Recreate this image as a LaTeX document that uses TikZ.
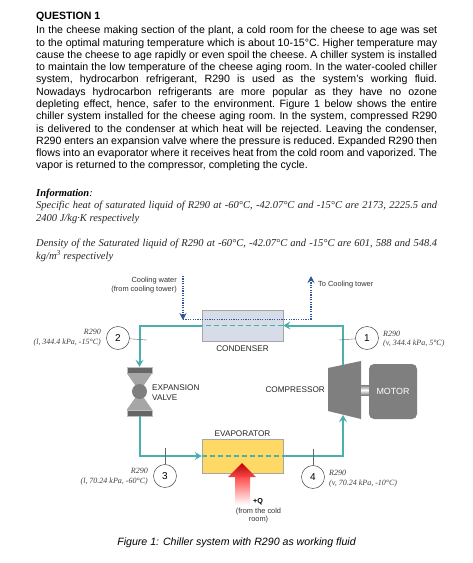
\documentclass[tikz,border=0pt]{standalone}
\usepackage{fontspec}
\setmainfont{Liberation Sans}
\newfontfamily\serifface{Liberation Serif}
\usetikzlibrary{arrows.meta, positioning, calc}
\definecolor{pipeteal}{HTML}{4BAFAE}
\definecolor{waterblue}{HTML}{2F5597}
\definecolor{machinegray}{HTML}{7F7F7F}
\definecolor{condfill}{HTML}{D6DCE8}
\definecolor{evapfill}{HTML}{FFD966}
\definecolor{boxedge}{HTML}{A6A6A6}
\tikzset{
    bodytext/.style={inner sep=0pt, text width=401pt, align=justify, font=\frenchspacing\fontsize{10.6}{12.27}\selectfont},
    infotext/.style={inner sep=0pt, text width=401pt, align=justify, font=\frenchspacing\serifface\itshape\fontsize{10.5}{12.6}\selectfont, text=black!85},
    refline/.style={draw=pipeteal, line width=2pt},
    reftip/.style={refline, -{Stealth[length=7pt, width=8pt, inset=2.5pt]}},
    refdash/.style={draw=pipeteal, line width=1.4pt, dash pattern=on 5pt off 3pt},
    water/.style={draw=waterblue, line width=1.2pt, dash pattern=on 1.2pt off 1.2pt},
    watertip/.style={water, -{Stealth[length=7pt, width=7pt, inset=2.5pt]}},
    hxbox/.style={draw=boxedge, line width=0.6pt, minimum width=81pt},
    hxlabel/.style={inner sep=0pt, font=\fontsize{8.2}{10}\selectfont, text=black!85},
    statecircle/.style={circle, draw=black!80, line width=0.45pt, fill=white, minimum size=23pt, inner sep=0pt, font=\fontsize{10}{11}\selectfont},
    statetick/.style={draw=black!60, line width=0.4pt},
    statetext/.style={inner sep=0pt, font=\serifface\itshape\fontsize{8}{9.6}\selectfont, text=black!75},
    smalltext/.style={inner sep=0pt, font=\fontsize{7.4}{8.8}\selectfont, text=black!80, align=center},
    valvebar/.style={fill=black!60, draw=black!25, line width=0.4pt, minimum width=25pt, minimum height=6pt, inner sep=0pt}
}
\begin{document}
\begin{tikzpicture}[x=1pt, y=-1pt]
    \useasboundingbox (0,0) rectangle (472,563);
    \fill[white] (0,0) rectangle (472,563);

    % Question text
    \node (title) at (36,17) [anchor=west, inner sep=0pt, font=\bfseries\fontsize{10.6}{12}\selectfont] {QUESTION 1};
    \node (body) at (36,26) [anchor=north west, bodytext] {In the cheese making section of the plant, a cold room for the cheese to age was set\linebreak
    to the optimal maturing temperature which is about 10-15°C. Higher temperature may\linebreak
    cause the cheese to age rapidly or even spoil the cheese. A chiller system is installed\linebreak
    to maintain the low temperature of the cheese aging room. In the water-cooled chiller\linebreak
    system, hydrocarbon refrigerant, R290 is used as the system's working fluid.\linebreak
    Nowadays hydrocarbon refrigerants are more popular as they have no ozone\linebreak
    depleting effect, hence, safer to the environment. Figure 1 below shows the entire\linebreak
    chiller system installed for the cheese aging room. In the system, compressed R290\linebreak
    is delivered to the condenser at which heat will be rejected. Leaving the condenser,\linebreak
    R290 enters an expansion valve where the pressure is reduced. Expanded R290 then\linebreak
    flows into an evaporator where it receives heat from the cold room and vaporized. The\linebreak
    vapor is returned to the compressor, completing the cycle.};

    % Information
    \node (infohead) at (36,193.5) [anchor=west, inner sep=0pt, font=\serifface\itshape\fontsize{10.5}{12}\selectfont] {\textbf{Information}:};
    \node (heat) at (36,201) [anchor=north west, infotext] {Specific heat of saturated liquid of R290 at -60°C, -42.07°C and -15°C are 2173, 2225.5 and\linebreak
    2400 J/kg·K respectively};
    \node (density) at (36,239) [anchor=north west, infotext] {Density of the Saturated liquid of R290 at -60°C, -42.07°C and -15°C are 601, 588 and 548.4\linebreak
    kg/m\textsuperscript{3} respectively};

    % Equipment
    \node (cond) at (242.5,325.5) [hxbox, fill=condfill, minimum height=31pt] {};
    \node (evap) at (242.5,456) [hxbox, fill=evapfill, minimum height=34pt] {};
    \node (condlabel) at (242.5,349) [hxlabel] {CONDENSER};
    \node (evaplabel) at (242.5,433.5) [hxlabel] {EVAPORATOR};

    \node (valvetop) at (139.5,370) [valvebar] {};
    \node (valvebot) at (139.5,413) [valvebar] {};
    \fill[black!35] (valvetop.south west) -- (valvetop.south east) -- (139.5,391.5) -- (valvebot.north east) -- (valvebot.north west) -- (139.5,391.5) -- cycle;
    \node (valve) at (139.5,391.5) [circle, fill=machinegray, minimum size=15pt, inner sep=0pt] {};
    \node (valvelabel) at (152,393) [anchor=west, hxlabel, align=left] {EXPANSION\\VALVE};

    \fill[machinegray] (328,368) -- (361,361) -- (361,419) -- (328,411) -- cycle;
    \coordinate (compout) at (343,364.5);
    \coordinate (compin) at (343,415);
    \node (complabel) at (325,389.5) [anchor=east, hxlabel] {COMPRESSOR};
    \shade[top color=black!50, bottom color=black!50, middle color=white] (361,385) rectangle (369,395);
    \node (motor) at (393,391.5) [rectangle, rounded corners=5pt, fill=machinegray, minimum width=48pt, minimum height=55pt, inner sep=0pt, text=white, font=\fontsize{8.9}{10}\selectfont] {MOTOR};

    % Refrigerant loop
    \draw[reftip] (compout) |- (cond.east);
    \draw[refdash] (cond.east) -- (cond.west);
    \draw[reftip] (cond.west) -| (valvetop.north);
    \draw[reftip] (valvebot.south) |- (evap.west);
    \draw[refdash] (evap.west) -- (evap.east);
    \draw[reftip] (evap.east) -| (compin);

    % Cooling water
    \coordinate (waterin) at (183,276);
    \coordinate (waterjoin) at (183,320);
    \coordinate (waterturn) at (311,319.5);
    \coordinate (waterout) at (311,276);
    \draw[watertip] (waterin) -- (waterjoin);
    \draw[water] (183,319.5) -- (waterturn);
    \draw[watertip] (waterturn) -- (waterout);
    \node (waterinlabel) at (177,285) [anchor=east, smalltext, align=right] {Cooling water\\(from cooling tower)};
    \node (wateroutlabel) at (318,285) [anchor=west, smalltext] {To Cooling tower};

    % Heat input
    \shade[top color=red!75!black, bottom color=red!70!white!95!black] (242,463) -- (256,477) -- (228,477) -- cycle;
    \shade[top color=red!70!white, bottom color=white] (235,477) rectangle (250,505);
    \node (heatin) at (258,501.5) [inner sep=0pt, font=\bfseries\fontsize{7.2}{8}\selectfont] {+Q};
    \node (heatlabel) at (258.5,515.5) [smalltext] {(from the cold\\room)};

    % State points
    \node (s1) at (367,338) [statecircle] {1};
    \node (s2) at (118,338) [statecircle] {2};
    \node (s3) at (165,476) [statecircle] {3};
    \node (s4) at (313,477) [statecircle] {4};
    \coordinate (s1end) at (339,340);
    \coordinate (s2end) at (147,340);
    \coordinate (s3end) at (165,448);
    \coordinate (s4end) at (313,449);
    \draw[statetick] (s1) -- (s1end);
    \draw[statetick] (s2) -- (s2end);
    \draw[statetick] (s3) -- (s3end);
    \draw[statetick] (s4) -- (s4end);
    \node (s1text) at (383,339) [anchor=west, statetext, align=left] {R290\\(v, 344.4 kPa, 5°C)};
    \node (s2text) at (101,337.5) [anchor=east, statetext, align=right] {R290\\(l, 344.4 kPa, -15°C)};
    \node (s3text) at (148,476.5) [anchor=east, statetext, align=right] {R290\\(l, 70.24 kPa, -60°C)};
    \node (s4text) at (329,478.5) [anchor=west, statetext, align=left] {R290\\(v, 70.24 kPa, -10°C)};

    % Caption
    \node (caption) at (236.5,542.5) [inner sep=0pt, font=\itshape\fontsize{10.6}{12}\selectfont] {Figure 1: Chiller system with R290 as working fluid};
\end{tikzpicture}
\end{document}
